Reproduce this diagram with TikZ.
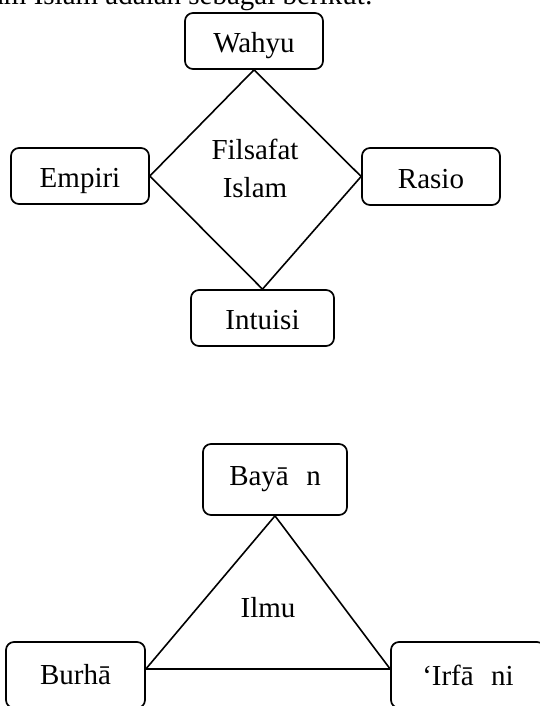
\documentclass[tikz,border=0pt]{standalone}
\usepackage{fontspec}
\setmainfont{Liberation Serif}
\usepackage{color, xcolor}
\usepackage{tikz}

\begin{document}
\begin{tikzpicture}[x=1pt,y=-1pt,
            kotak/.style={draw=black, line width=1.7pt, rounded corners=8pt, inner sep=0pt, font=\fontsize{29}{35}\selectfont},
            kotakatas/.style={kotak, text height=23pt, text depth=0pt},
            teks/.style={inner sep=0pt, font=\fontsize{29}{35}\selectfont},
            garis/.style={black, line width=1.6pt}]
            \useasboundingbox (0,0) rectangle (540,706);
            \clip (0,0) rectangle (540,706);
            % baris teks di atas (terpotong)
            \node[teks, anchor=base east] (judul) at (373,5) {dalam Islam adalah sebagai berikut:};
            % filsafat islam
            \node[kotakatas, minimum width=138pt, minimum height=56pt] (wahyu) at (254,41) {Wahyu};
            \node[kotakatas, minimum width=138pt, minimum height=56pt] (empiri) at (80,176) {Empiri};
            \node[kotakatas, minimum width=138pt, minimum height=57pt] (rasio) at (431,176.5) {Rasio};
            \node[kotakatas, minimum width=143pt, minimum height=56pt] (intuisi) at (262.5,318) {Intuisi};
            \node[teks, align=center, font=\fontsize{29}{38}\selectfont] (filsafat) at (255,168) {Filsafat\\Islam};
            \draw [garis](wahyu.south)--(empiri.east);
            \draw [garis](empiri.east)--(intuisi.north);
            \draw [garis](intuisi.north)--(rasio.west);
            \draw [garis](rasio.west)--(wahyu.south);
            % ilmu
            \node[kotak, minimum width=144pt, minimum height=71pt] (bayan) at (275,479.5) {Bayā\hspace{0.6em}n};
            \node[kotak, minimum width=139pt, minimum height=66pt] (burhan) at (75.5,675) {Burhā};
            \node[kotak, minimum width=154pt, minimum height=66pt] (irfani) at (468,675) {‘Irfā\hspace{0.6em}ni};
            \node[teks, anchor=base] (ilmu) at (268,617) {Ilmu};
            \draw [garis](bayan.south)--([yshift=6pt]burhan.east);
            \draw [garis]([yshift=6pt]burhan.east)--([yshift=6pt]irfani.west);
            \draw [garis]([yshift=6pt]irfani.west)--(bayan.south);
\end{tikzpicture}
\end{document}
